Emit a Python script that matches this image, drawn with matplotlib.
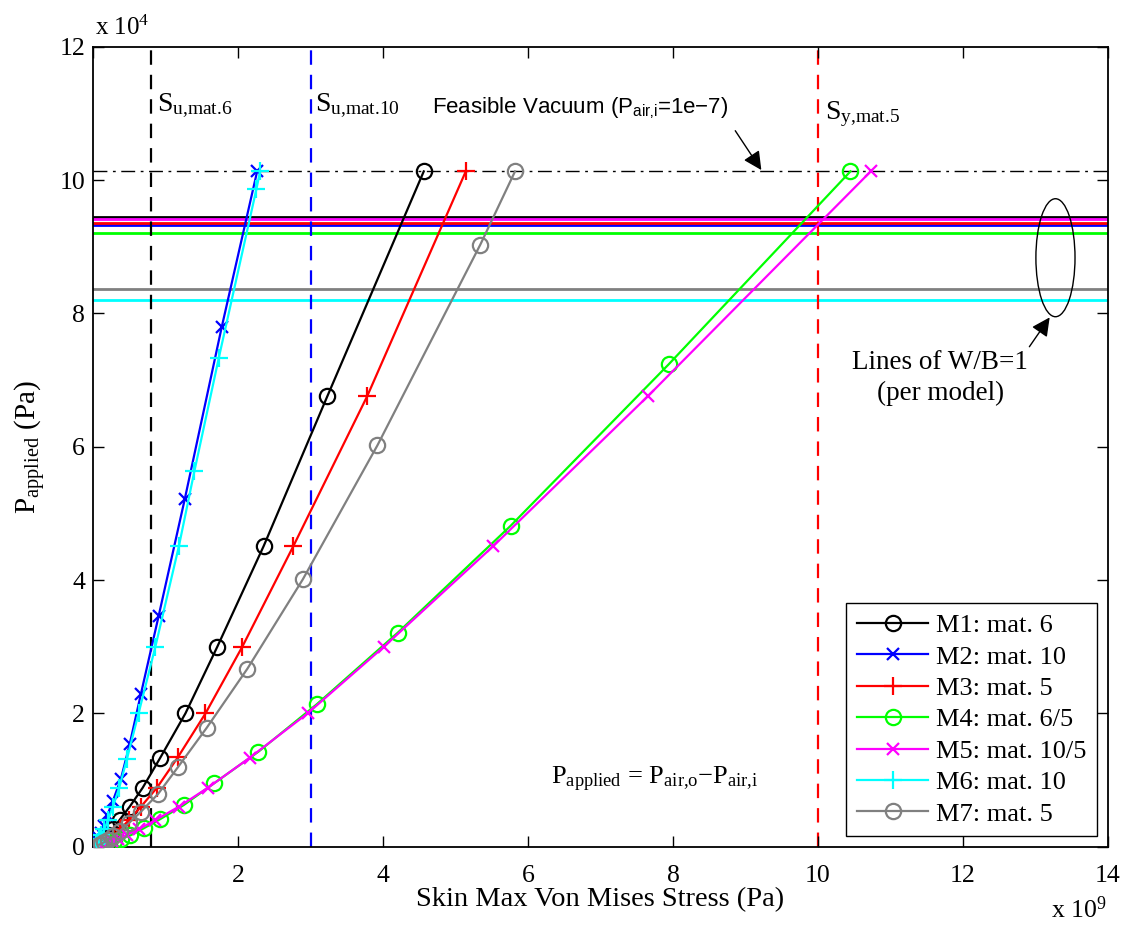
import numpy as np
import matplotlib
matplotlib.use('Agg')
import matplotlib.pyplot as plt
from matplotlib.patches import Ellipse

plt.rcParams['font.family'] = ['Liberation Serif', 'DejaVu Serif']
plt.rcParams['mathtext.fontset'] = 'custom'
plt.rcParams['mathtext.rm'] = 'Liberation Serif'
plt.rcParams['mathtext.it'] = 'Liberation Serif:italic'
plt.rcParams['mathtext.sf'] = 'Liberation Sans'

# stress in units of 1e9 Pa, applied pressure in units of 1e4 Pa
stress_m1 = [4.56, 3.23, 2.35, 1.71, 1.27, 0.92, 0.68, 0.50, 0.36, 0.27, 0.20, 0.15, 0.11, 0.08, 0.06, 0.045]
press_m1 = [10.13, 6.76, 4.51, 3.0, 2.0, 1.33, 0.885, 0.60, 0.40, 0.265, 0.178, 0.118, 0.079, 0.053, 0.035, 0.023]

stress_m2 = [2.26, 1.77, 1.26, 0.90, 0.655, 0.50, 0.38, 0.27, 0.19, 0.14, 0.10, 0.075, 0.055, 0.04, 0.03, 0.02]
press_m2 = [10.13, 7.79, 5.21, 3.46, 2.29, 1.535, 1.02, 0.69, 0.47, 0.31, 0.205, 0.137, 0.091, 0.061, 0.04, 0.027]

stress_m3 = [5.14, 3.78, 2.76, 2.055, 1.547, 1.164, 0.877, 0.655, 0.49, 0.37, 0.28, 0.21, 0.16, 0.12, 0.09]
press_m3 = [10.13, 6.76, 4.51, 3.0, 2.0, 1.34, 0.885, 0.60, 0.40, 0.265, 0.178, 0.118, 0.079, 0.053, 0.035]

stress_m4 = [10.45, 7.94, 5.76, 4.2, 3.086, 2.277, 1.663, 1.247, 0.915, 0.692, 0.51, 0.38, 0.28, 0.21, 0.155, 0.115]
press_m4 = [10.13, 7.235, 4.815, 3.21, 2.14, 1.425, 0.95, 0.625, 0.41, 0.275, 0.17, 0.121, 0.081, 0.054, 0.036, 0.024]

stress_m5 = [10.73, 7.66, 5.52, 4.01, 2.956, 2.157, 1.58, 1.178, 0.855, 0.63, 0.46, 0.34, 0.25, 0.185, 0.135]
press_m5 = [10.13, 6.765, 4.51, 3.0, 2.0, 1.335, 0.885, 0.60, 0.40, 0.265, 0.178, 0.118, 0.079, 0.053, 0.035]

stress_m6 = [2.30, 2.25, 1.73, 1.395, 1.18, 0.855, 0.623, 0.462, 0.355, 0.265, 0.20, 0.15, 0.11, 0.08, 0.06, 0.045, 0.033]
press_m6 = [10.13, 9.865, 7.33, 5.64, 4.51, 3.0, 2.0, 1.315, 0.88, 0.59, 0.395, 0.26, 0.175, 0.117, 0.078, 0.052, 0.035]

stress_m7 = [5.82, 5.34, 3.92, 2.89, 2.125, 1.561, 1.164, 0.891, 0.655, 0.485, 0.36, 0.27, 0.2, 0.15, 0.11, 0.08]
press_m7 = [10.13, 9.03, 6.02, 4.01, 2.67, 1.78, 1.19, 0.79, 0.525, 0.35, 0.235, 0.156, 0.104, 0.07, 0.046, 0.031]

labels = ['M1: mat. 6', 'M2: mat. 10', 'M3: mat. 5', 'M4: mat. 6/5',
          'M5: mat. 10/5', 'M6: mat. 10', 'M7: mat. 5']
colors = ['k', '#0000ff', '#ff0000', '#00ff00', '#ff00ff', '#00ffff', '#808080']
markers = ['o', 'x', '+', 'o', 'x', '+', 'o']

# W/B = 1 lines per model (x 1e4 Pa)
wb_one = [9.45, 9.33, 9.35, 9.2, 9.42, 8.195, 8.365]
wb_order = [0, 1, 2, 3, 6, 5, 4]

vacuum_p = 10.13
limit_stress = [0.8, 3.0, 10.0]
limit_colors = ['k', '#0000ff', '#ff0000']

fig = plt.figure(figsize=(11.27, 9.25), dpi=100)
ax = fig.add_axes([0.0829, 0.0846, 0.8999, 0.8649])

for i in wb_order:
    ax.axhline(wb_one[i], color=colors[i], lw=2, zorder=1)

for xs, c in zip(limit_stress, limit_colors):
    ax.axvline(xs, color=c, lw=1.6, ls=(0, (6.5, 4.5)), zorder=1.5)

ax.axhline(vacuum_p, color='k', lw=1, ls=(0, (10, 4, 2, 4)), zorder=1.5)

series = [(stress_m1, press_m1), (stress_m2, press_m2), (stress_m3, press_m3),
          (stress_m4, press_m4), (stress_m5, press_m5), (stress_m6, press_m6),
          (stress_m7, press_m7)]
for k in range(7):
    xs, ys = series[k]
    ms = 11 if markers[k] == 'o' else (9 if markers[k] == 'x' else 13)
    ax.plot(xs, ys, color=colors[k], marker=markers[k], ms=ms, mfc='none',
            mew=1.6, lw=1.6, label=labels[k], zorder=3)

ax.set_xlim(0, 14)
ax.set_ylim(0, 12)
ax.set_xticks(range(0, 15, 2))
ax.set_xticklabels([''] + [str(v) for v in range(2, 15, 2)])
ax.set_yticks(range(0, 13, 2))
ax.tick_params(direction='in', length=8, width=1, labelsize=18.5, top=True, right=True)
ax.tick_params(axis='x', pad=13)
ax.tick_params(axis='y', pad=6)
for s in ax.spines.values():
    s.set_linewidth(1.3)

ax.set_xlabel('Skin Max Von Mises Stress (Pa)', fontsize=20.5, labelpad=0)
ax.set_ylabel(r'P$_{\text{applied}}$ (Pa)', fontsize=21, labelpad=8)
fig.text(0.084, 0.962, r'x 10$^{4}$', fontsize=18, ha='left', va='baseline')
fig.text(0.982, 0.008, r'x 10$^{9}$', fontsize=18.5, ha='right', va='baseline')

ax.text(0.88, 11.03, r'S$_{\text{u,mat.6}}$', fontsize=20, va='baseline')
ax.text(3.06, 11.03, r'S$_{\text{u,mat.10}}$', fontsize=20, va='baseline')
ax.text(10.1, 10.91, r'S$_{\text{y,mat.5}}$', fontsize=20, va='baseline')
ax.text(4.68, 11.0, 'Feasible Vacuum (P$_{\\mathsf{air\u201ai}}$=1e\u22127)', fontsize=16,
        family=['Liberation Sans', 'DejaVu Sans'], va='baseline')
ax.text(11.69, 7.26, 'Lines of W/B=1', fontsize=19.5, ha='center', va='center')
ax.text(11.69, 6.8, '(per model)', fontsize=19.5, ha='center', va='center')
ax.text(7.75, 0.93, r'P$_{\text{applied}}$ = P$_{\text{air,o}}$$-$P$_{\text{air,i}}$',
        fontsize=19, ha='center', va='baseline')

ax.add_patch(Ellipse((13.28, 8.835), 0.54, 1.77, fill=False, ec='k', lw=1, zorder=4))

arrow = dict(arrowstyle='-|>', color='k', lw=1, mutation_scale=28, shrinkA=0, shrinkB=0)
ax.annotate('', xy=(9.22, 10.15), xytext=(8.86, 10.74), arrowprops=arrow)
ax.annotate('', xy=(13.2, 7.94), xytext=(12.92, 7.5), arrowprops=arrow)

leg = ax.legend(loc='lower right', fontsize=19, fancybox=False, framealpha=1,
                edgecolor='k', handlelength=2.7, borderaxespad=0.4,
                labelspacing=0.3, handletextpad=0.3, borderpad=0.4)
leg.get_frame().set_linewidth(1)

fig.savefig('out.png', dpi=100)
